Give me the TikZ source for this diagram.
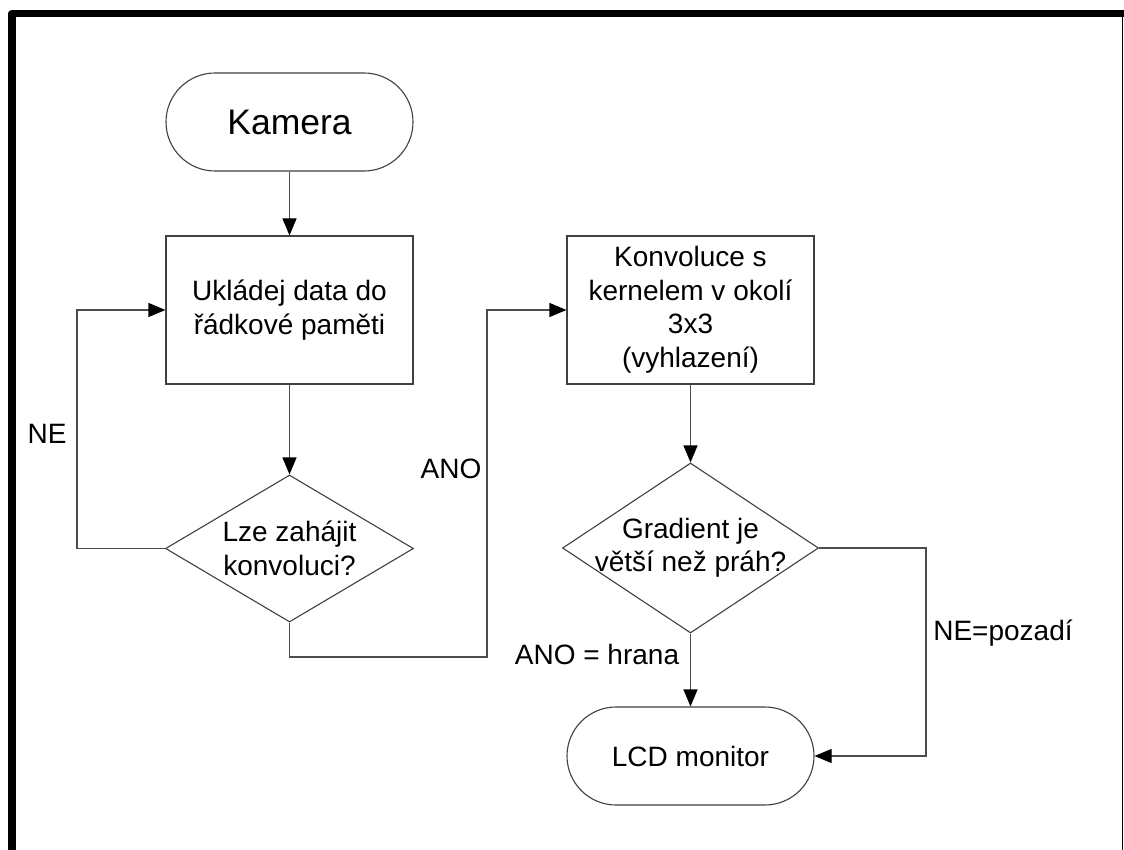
\documentclass[tikz,border=0pt]{standalone}
\usepackage{fontspec}
\setmainfont{Liberation Sans}
\usetikzlibrary{arrows.meta,shapes.geometric}
\begin{document}
\begin{tikzpicture}[x=1pt,y=-1pt,
  every node/.style={font=\fontsize{28}{33.5}\selectfont, text=black},
  outline/.style={draw=black!75, line width=1.1pt},
  term/.style={outline, rectangle, rounded corners=49pt, minimum width=247pt, minimum height=98pt, inner sep=0pt},
  procbox/.style={outline, rectangle, minimum width=247pt, minimum height=148pt, inner sep=0pt, align=center},
  decision/.style={outline, diamond, inner sep=0pt},
  txt/.style={align=center, inner sep=0pt},
  conn/.style={draw=black!70, line width=1.1pt, -{Triangle[length=17pt,width=14pt,color=black]}},
  lbl/.style={inner sep=0pt, anchor=base}
]
\useasboundingbox (0,0) rectangle (1124,850);
\draw[line width=7.5pt, line join=round] (12,852) -- (12,13.5) -- (1126,13.5);
\draw[line width=1.5pt] (1122.5,17) -- (1122.5,852);

\node[term, font=\fontsize{35.5}{40}\selectfont] (kam) at (289.5,122) {Kamera};
\node[procbox] (uk) at (289.5,310) {Ukládej data do\\řádkové paměti};
\node[decision, minimum width=248pt, minimum height=147pt] (d1) at (289.5,548.5) {};
\node[txt] (d1t) at (d1) {Lze zahájit\\konvoluci?};
\node[procbox] (konv) at (690.5,310) {Konvoluce s\\kernelem v okolí\\3x3\\(vyhlazení)};
\node[decision, minimum width=256pt, minimum height=170pt] (d2) at (690.5,548) {};
\node[txt] (d2t) at (d2) {Gradient je\\větší než práh?};
\node[term] (lcd) at (690.5,756) {LCD monitor};

\coordinate (anoR) at (487,657);
\coordinate (neR) at (926,548);

\draw[conn] (kam.south) -- (uk.north);
\draw[conn] (uk.south) -- (d1.north);
\draw[conn] (d1.west) -- ++(-88,0) |- (uk.west);
\draw[conn] (d1.south) |- (anoR) |- (konv.west);
\draw[conn] (konv.south) -- (d2.north);
\draw[conn] (d2.south) -- (lcd.north);
\draw[conn] (d2.east) -- (neR) |- (lcd.east);

\node[lbl] (lne) at (47,443) {NE};
\node[lbl] (lano) at (451,478) {ANO};
\node[lbl] (lhr) at (597,664) {ANO = hrana};
\node[lbl] (lpoz) at (1003,640) {NE=pozadí};
\end{tikzpicture}
\end{document}
